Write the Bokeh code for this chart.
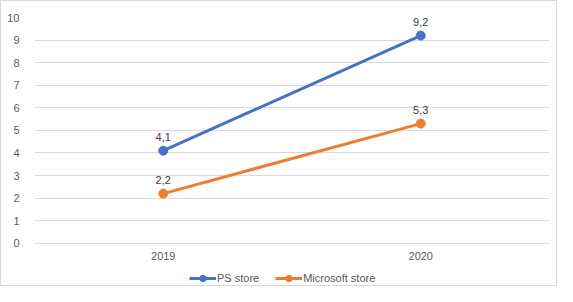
from bokeh.plotting import figure
from bokeh.models import FactorRange, Range1d, Legend, LegendItem, ColumnDataSource
from bokeh.core.properties import value
from bokeh.embed import file_html
from bokeh.resources import INLINE

years = ["2019", "2020"]
ps_store = [4.1, 9.2]
ms_store = [2.2, 5.3]
ps_labels = ["4,1", "9,2"]
ms_labels = ["2,2", "5,3"]
y_ticks = list(range(0, 11))
axis_base = [0, 0]

FONT = "Liberation Sans"
BLUE = "#4472C4"
ORANGE = "#ED7D31"

p = figure(width=557, height=286, output_backend="svg", toolbar_location=None,
           x_range=FactorRange(factors=years, range_padding=0),
           y_range=Range1d(-1.96, 10),
           min_border_left=33, min_border_right=9, min_border_top=16, min_border_bottom=0)
p.styles = {"border": "1px solid #d9d9d9", "box-sizing": "border-box"}
p.outline_line_color = None
p.background_fill_color = "white"

p.xaxis.visible = False
p.xgrid.grid_line_color = None
p.ygrid.grid_line_color = "#d9d9d9"
p.ygrid.grid_line_width = 1
p.yaxis.ticker = y_ticks
p.yaxis.axis_line_color = None
p.yaxis.major_tick_line_color = None
p.yaxis.minor_tick_line_color = None
p.yaxis.major_label_text_font = FONT
p.yaxis.major_label_text_font_size = "11px"
p.yaxis.major_label_text_color = "#595959"
p.yaxis.major_label_standoff = 9

src = ColumnDataSource(dict(x=years, ps=ps_store, ms=ms_store, psl=ps_labels, msl=ms_labels,
                            base=axis_base))

# category labels below the zero line
p.text("x", "base", text="x", source=src, text_font=value(FONT), text_font_size="11px",
       text_color="#595959", text_align="center", text_baseline="top", y_offset=9)

l1 = p.line("x", "ps", source=src, line_color=BLUE, line_width=3)
s1 = p.scatter("x", "ps", source=src, size=9, fill_color=BLUE, line_color=BLUE)
l2 = p.line("x", "ms", source=src, line_color=ORANGE, line_width=3)
s2 = p.scatter("x", "ms", source=src, size=9, fill_color=ORANGE, line_color=ORANGE)

for col, lab in (("ps", "psl"), ("ms", "msl")):
    p.text("x", col, text=lab, source=src, text_font=value(FONT), text_font_size="11px",
           text_color="#404040", text_align="center", text_baseline="bottom", y_offset=-10)

legend = Legend(items=[LegendItem(label="PS store", renderers=[l1, s1]),
                       LegendItem(label="Microsoft store", renderers=[l2, s2])],
                orientation="horizontal", location=(155, 1),
                label_text_font=FONT, label_text_font_size="11px", label_text_color="#595959",
                glyph_width=27, glyph_height=16, label_standoff=1, spacing=16, border_line_color=None,
                background_fill_alpha=0, padding=0, margin=0)
p.add_layout(legend, "center")

open("out.html", "w").write(file_html(p, INLINE))
